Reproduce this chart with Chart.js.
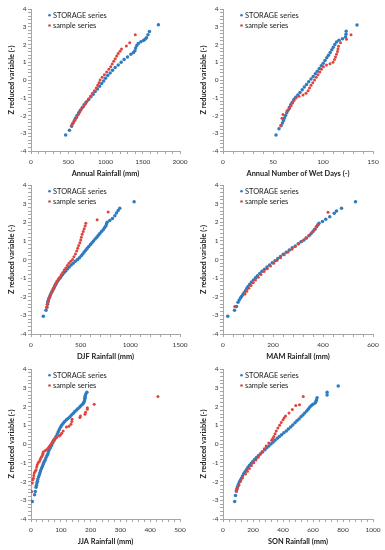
<!DOCTYPE html>
<html>
<head>
<meta charset="utf-8">
<script src="https://cdn.jsdelivr.net/npm/chart.js@4.4.1/dist/chart.umd.min.js"></script>
<style>
body { margin: 0; background: #fff; }
#page { position: relative; width: 385px; height: 550px; overflow: hidden; }
.panel { position: absolute; }
</style>
</head>
<body>
<div id="page">
  <div class="panel" style="left:0;top:0;width:192px;height:182px"><canvas id="c1"></canvas></div>
  <div class="panel" style="left:192px;top:0;width:193px;height:182px"><canvas id="c2"></canvas></div>
  <div class="panel" style="left:0;top:176px;width:192px;height:189px"><canvas id="c3"></canvas></div>
  <div class="panel" style="left:192px;top:176px;width:193px;height:189px"><canvas id="c4"></canvas></div>
  <div class="panel" style="left:0;top:360px;width:192px;height:190px"><canvas id="c5"></canvas></div>
  <div class="panel" style="left:192px;top:360px;width:193px;height:190px"><canvas id="c6"></canvas></div>
</div>
<script>
// series names and axis titles
var seriesNames = ['STORAGE series', 'sample series'];
var yTitle = 'Z reduced variable (-)';
var xTitles = ['Annual Rainfall (mm)', 'Annual Number of Wet Days (-)', 'DJF Rainfall (mm)',
               'MAM Rainfall (mm)', 'JJA Rainfall (mm)', 'SON Rainfall (mm)'];
var xMaxes  = [2000, 150, 1500, 600, 500, 1000];
var xMajors = [500, 50, 500, 200, 100, 200];
var xMinors = [100, 10, 100, 40, 20, 40];

// [value, Z] pairs
var annualStorage = [[465,-3.1],[516,-2.83],[545,-2.6],[560,-2.45],[580,-2.3],[598,-2.15],[617,-2.0],[640,-1.85],
  [662,-1.7],[688,-1.55],[712,-1.4],[740,-1.25],[775,-1.1],[805,-0.95],[835,-0.8],[862,-0.65],[892,-0.5],
  [920,-0.35],[948,-0.2],[975,-0.05],[1000,0.1],[1030,0.25],[1062,0.4],[1095,0.55],[1130,0.7],[1170,0.85],
  [1210,1.0],[1250,1.15],[1295,1.3],[1340,1.45],[1375,1.55],[1395,1.65],[1405,1.8],[1420,1.95],[1440,2.05],
  [1475,2.15],[1510,2.22],[1530,2.3],[1550,2.38],[1570,2.55],[1590,2.73],[1710,3.11]];
var annualSample = [[545,-2.55],[570,-2.4],[592,-2.25],[614,-2.1],[636,-1.95],[655,-1.8],[675,-1.65],[705,-1.5],
  [730,-1.35],[750,-1.2],[775,-1.05],[800,-0.9],[825,-0.75],[850,-0.6],[875,-0.45],[895,-0.3],[912,-0.15],
  [927,0],[955,0.15],[985,0.3],[1015,0.45],[1045,0.6],[1070,0.75],[1090,0.9],[1110,1.05],[1130,1.2],
  [1150,1.35],[1170,1.5],[1195,1.62],[1215,1.75],[1280,1.92],[1325,2.1],[1400,2.55]];

var wetStorage = [[53,-3.1],[56,-2.75],[58,-2.58],[59.5,-2.42],[60.5,-2.28],[61.5,-2.14],[62.6,-2.0],[63.8,-1.85],
  [65,-1.7],[66.3,-1.55],[67.7,-1.4],[69.2,-1.25],[70.8,-1.1],[72.7,-0.97],[74.8,-0.84],[77,-0.7],[79.2,-0.55],
  [81.3,-0.4],[83.5,-0.25],[85.7,-0.1],[88,0.05],[90.2,0.2],[92.3,0.35],[94.3,0.5],[96.3,0.65],[98.3,0.8],
  [100.2,0.95],[102,1.1],[103.8,1.25],[105.5,1.4],[107.2,1.55],[108.8,1.7],[110.3,1.85],[111.8,2.0],
  [113.5,2.14],[116,2.24],[119.5,2.32],[122.5,2.42],[123,2.58],[123.2,2.75],[134,3.1]];
var wetSample = [[58,-2.55],[59,-2.15],[60,-1.95],[64,-1.75],[66.5,-1.6],[68,-1.45],[69.5,-1.3],[71,-1.15],
  [73,-1.02],[76,-0.92],[80,-0.85],[83,-0.75],[85,-0.6],[86.5,-0.45],[88,-0.3],[89.8,-0.15],[91.5,0],
  [93.3,0.15],[95,0.3],[96.8,0.45],[98.5,0.6],[100.5,0.75],[103.5,0.85],[107,0.92],[110,1.0],[111.5,1.15],
  [112.5,1.3],[113.5,1.45],[114.5,1.6],[115,1.75],[115.5,1.9],[117.5,2.1],[123.5,2.3],[128,2.55]];

var djfStorage = [[124,-3.05],[151,-2.73],[161,-2.57],[167,-2.4],[170,-2.3],[174,-2.2],[180,-2.1],[187,-2.0],
  [195,-1.9],[204,-1.8],[214,-1.7],[224,-1.6],[234,-1.5],[244,-1.4],[254,-1.3],[264,-1.2],[277,-1.1],
  [291,-1.0],[304,-0.9],[318,-0.8],[335,-0.7],[352,-0.6],[368,-0.5],[385,-0.4],[405,-0.3],[425,-0.2],
  [447,-0.1],[469,0],[488,0.1],[506,0.2],[521,0.3],[536,0.4],[551,0.5],[566,0.6],[582,0.7],[599,0.8],
  [614,0.9],[629,1.0],[646,1.1],[663,1.2],[678,1.3],[693,1.4],[710,1.5],[727,1.6],[740,1.7],[753,1.8],
  [760,1.9],[767,2.0],[793,2.1],[820,2.2],[844,2.35],[860,2.5],[877,2.63],[894,2.75],[1038,3.1]];
var djfSample = [[157,-2.57],[163,-2.4],[170,-2.25],[180,-2.1],[191,-2.0],[200,-1.85],[212,-1.7],[224,-1.55],
  [238,-1.4],[250,-1.28],[262,-1.15],[275,-1.05],[290,-0.95],[305,-0.82],[320,-0.7],[335,-0.57],[350,-0.45],
  [366,-0.32],[382,-0.2],[400,-0.1],[418,0],[432,0.15],[447,0.3],[460,0.45],[470,0.6],[480,0.75],[492,0.9],
  [500,1.05],[507,1.2],[515,1.35],[526,1.5],[535,1.65],[545,1.8],[552,1.95],[666,2.14],[777,2.55]];

var mamStorage = [[19,-3.05],[46,-2.73],[54,-2.52],[60,-2.3],[65,-2.18],[70,-2.07],[74,-1.98],[79,-1.89],
  [84,-1.78],[90,-1.68],[95,-1.56],[100,-1.45],[107,-1.33],[114,-1.21],[122,-1.1],[130,-0.98],[138,-0.87],
  [147,-0.75],[156,-0.63],[166,-0.52],[176,-0.4],[186,-0.29],[197,-0.18],[208,-0.07],[219,0.05],[230,0.16],
  [241,0.28],[253,0.39],[265,0.51],[277,0.63],[289,0.73],[301,0.84],[312,0.95],[324,1.05],[334,1.16],
  [344,1.27],[352,1.38],[360,1.5],[368,1.63],[375,1.77],[380,1.86],[384,1.95],[398,2.04],[411,2.16],
  [427,2.3],[445,2.48],[454,2.61],[474,2.75],[530,3.1]];
var mamSample = [[47,-2.52],[88,-1.85],[95,-1.7],[103,-1.55],[112,-1.4],[121,-1.25],[130,-1.1],[141,-0.95],
  [152,-0.8],[164,-0.65],[177,-0.5],[190,-0.35],[203,-0.2],[216,-0.05],[230,0.1],[245,0.25],[260,0.4],
  [275,0.55],[289,0.7],[303,0.85],[317,1.0],[331,1.15],[344,1.3],[355,1.45],[364,1.6],[372,1.75],
  [380,1.88],[420,2.54]];

var jjaStorage = [[4.5,-3.06],[12,-2.7],[14.5,-2.53],[17,-2.31],[18.5,-2.2],[20,-2.08],[21.5,-1.98],[23,-1.87],
  [25.5,-1.75],[28,-1.64],[30,-1.53],[32,-1.43],[35,-1.31],[38,-1.2],[41,-1.08],[43.5,-0.97],[47,-0.86],
  [50,-0.75],[53,-0.64],[56,-0.54],[58.5,-0.42],[61,-0.31],[65,-0.2],[69,-0.08],[73,0.05],[77,0.17],
  [80.5,0.28],[84,0.4],[88,0.53],[91.5,0.66],[95,0.78],[99,0.9],[103,1.0],[108,1.11],[113,1.2],[119,1.29],
  [125,1.37],[131,1.46],[136,1.55],[142,1.64],[147,1.73],[153,1.82],[158,1.9],[164,1.98],[168,2.05],
  [173,2.12],[176,2.19],[178.5,2.26],[180,2.35],[181,2.44],[181.5,2.51],[182,2.58],[184,2.67],[187.5,2.76]];
var jjaSample = [[2.2,-2.53],[4.5,-2.08],[6,-1.9],[8,-1.82],[9.5,-1.68],[11,-1.55],[14,-1.45],[17,-1.37],
  [19,-1.23],[21,-1.1],[24,-1.0],[28,-0.93],[30.5,-0.84],[33,-0.75],[36,-0.66],[39,-0.58],[40,-0.5],
  [41,-0.43],[47,-0.36],[52,-0.3],[57,-0.22],[61,-0.13],[65,-0.05],[69,0.04],[72.5,0.13],[75,0.2],
  [78,0.27],[86,0.35],[95,0.43],[99,0.5],[103,0.58],[108,0.7],[119,0.91],[127,0.95],[134,1.05],[137,1.2],
  [138,1.32],[164,1.41],[166,1.5],[181,1.59],[183,1.69],[189,1.85],[189,1.94],[212,2.12],[426,2.53]];

var sonStorage = [[78,-3.06],[83,-2.74],[89,-2.49],[93,-2.37],[98,-2.26],[103,-2.15],[109,-2.03],[116,-1.93],
  [123,-1.82],[130,-1.7],[138,-1.59],[147,-1.48],[156,-1.37],[166,-1.25],[176,-1.14],[187,-1.04],[199,-0.93],
  [211,-0.83],[223,-0.72],[236,-0.62],[250,-0.52],[264,-0.42],[279,-0.31],[292,-0.2],[306,-0.1],[320,0],
  [333,0.1],[347,0.2],[362,0.31],[376,0.4],[391,0.49],[406,0.6],[422,0.7],[436,0.8],[451,0.91],[465,1.02],
  [480,1.14],[493,1.24],[507,1.34],[520,1.45],[533,1.55],[545,1.66],[558,1.76],[568,1.86],[578,1.96],
  [589,2.05],[600,2.12],[614,2.19],[619,2.27],[623,2.35],[627,2.47],[694,2.62],[694,2.76],[768,3.09]];
var sonSample = [[89,-2.53],[95,-2.4],[105,-2.2],[116,-2.0],[130,-1.8],[150,-1.6],[163,-1.45],[176,-1.3],
  [190,-1.15],[205,-1.0],[220,-0.85],[234,-0.7],[248,-0.55],[261,-0.4],[275,-0.25],[288,-0.1],[305,0.05],
  [324,0.2],[332,0.3],[339,0.4],[347,0.55],[355,0.7],[366,0.85],[377,1.0],[388,1.15],[400,1.3],[408,1.4],
  [417,1.5],[440,1.65],[462,1.84],[485,2.05],[510,2.1],[535,2.53]];

var storageSets = [annualStorage, wetStorage, djfStorage, mamStorage, jjaStorage, sonStorage];
var sampleSets  = [annualSample, wetSample, djfSample, mamSample, jjaSample, sonSample];

var blue = '#2E7BBF';
var red = '#E0443C';
var axisColor = '#A6A6A6';
var fontFamily = 'Lato, "Open Sans", sans-serif';

function pts(arr) {
  return arr.map(function(p) { return {x: p[0], y: p[1]}; });
}

function isMultiple(v, step) {
  return Math.abs(v / step - Math.round(v / step)) < 1e-6;
}

// legend drawn inside the plot, top left
var insideLegend = {
  id: 'insideLegend',
  afterDatasetsDraw: function(chart) {
    var ctx = chart.ctx, a = chart.chartArea;
    var rows = [chart.data.datasets[1], chart.data.datasets[0]];
    ctx.save();
    ctx.font = '7.4px ' + fontFamily;
    ctx.textBaseline = 'middle';
    rows.forEach(function(ds, i) {
      var y = a.top + 6.3 + i * 10.2;
      ctx.fillStyle = ds.backgroundColor;
      ctx.beginPath();
      ctx.arc(a.left + 18.5, y, 1.3, 0, Math.PI * 2);
      ctx.fill();
      ctx.fillStyle = '#222';
      ctx.fillText(ds.label, a.left + 22, y);
    });
    ctx.restore();
  }
};

function makeChart(i) {
  new Chart(document.getElementById('c' + (i + 1)), {
    type: 'scatter',
    data: {
      datasets: [
        {label: seriesNames[1], data: pts(sampleSets[i]), backgroundColor: red, borderWidth: 0,
         pointRadius: 1.5, order: 0},
        {label: seriesNames[0], data: pts(storageSets[i]), backgroundColor: blue, borderWidth: 0,
         pointRadius: 1.75, order: 1}
      ]
    },
    options: {
      responsive: true,
      maintainAspectRatio: false,
      animation: false,
      layout: {padding: {left: 0, right: 12, top: 9, bottom: 0}},
      plugins: {legend: {display: false}, tooltip: {enabled: false}},
      scales: {
        x: {
          type: 'linear', min: 0, max: xMaxes[i],
          afterFit: function(s) { s.height = 31; },
          border: {color: axisColor, width: 1},
          grid: {drawOnChartArea: false, drawTicks: true, tickLength: 3, color: axisColor},
          ticks: {
            stepSize: xMinors[i], autoSkip: false, maxTicksLimit: 1000, maxRotation: 0, padding: 4,
            color: '#333', font: {family: fontFamily, size: 6.5},
            callback: function(v) { return isMultiple(v, xMajors[i]) ? String(Math.round(v)) : ''; }
          },
          title: {display: true, text: xTitles[i], color: '#222', padding: {top: 0, bottom: 4},
                  font: {family: fontFamily, size: 7.4, weight: 'bold'}}
        },
        y: {
          type: 'linear', min: -4, max: 4,
          afterFit: function(s) { s.width = 31; },
          border: {color: axisColor, width: 1},
          grid: {drawOnChartArea: false, drawTicks: true, tickLength: 3, color: axisColor},
          ticks: {
            stepSize: 0.2, autoSkip: false, maxTicksLimit: 1000, padding: 1.5,
            color: '#333', font: {family: fontFamily, size: 6.5},
            callback: function(v) { return isMultiple(v, 1) ? String(Math.round(v)) : ''; }
          },
          title: {display: true, text: yTitle, color: '#222', padding: {top: 7.3, bottom: 0},
                  font: {family: fontFamily, size: 7.4, weight: 'bold'}}
        }
      }
    },
    plugins: [insideLegend]
  });
}

for (var i = 0; i < 6; i++) makeChart(i);
</script>
</body>
</html>
